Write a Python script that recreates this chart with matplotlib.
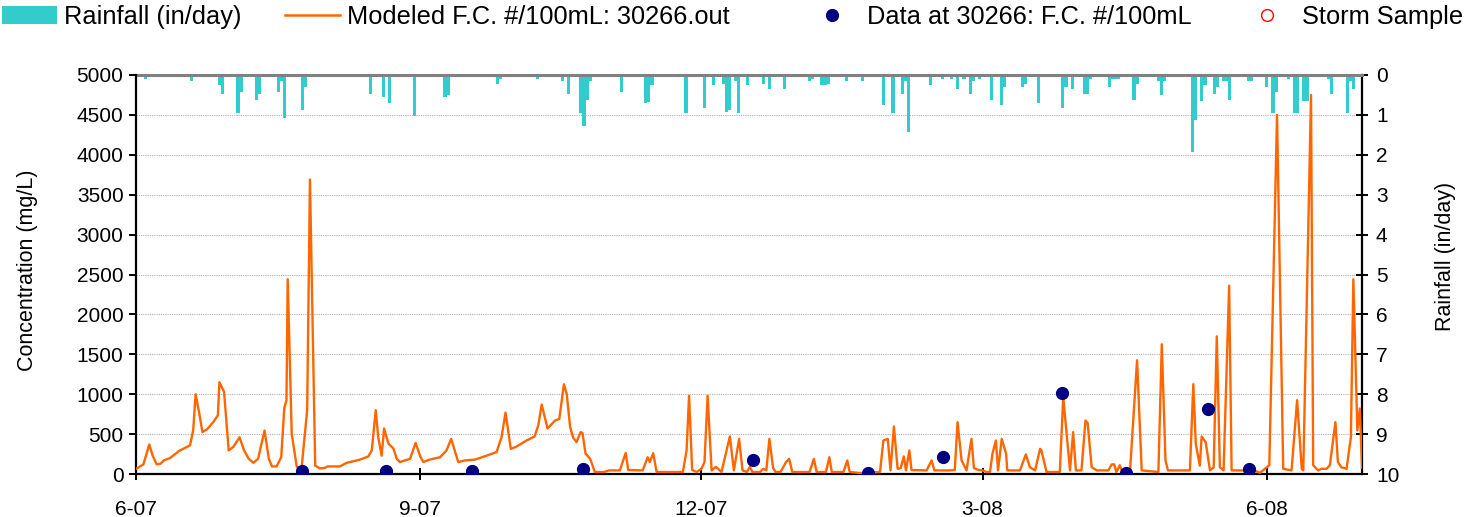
import pandas as pd
import matplotlib
matplotlib.use("Agg")
import matplotlib.pyplot as plt
import matplotlib.dates as mdates
from matplotlib.patches import Patch
from matplotlib.lines import Line2D


START = pd.Timestamp("2007-06-01")
END_DAY = 396.8

# modeled fecal coliform (#/100mL), day offset from START
model_day = [
    0, 2.4, 4.3, 5.4, 6.7, 8, 9, 11, 14, 17.5, 18.5, 19.3, 20.5, 21.5, 23, 25, 26.5, 27, 28.5,
    30, 31.5, 33.5, 35, 36.5, 38, 39.5, 41.6, 43, 44, 45.5, 47, 48, 48.7, 49.1, 50.4, 52, 53.5,
    55.4, 56.3, 58, 59.5, 61, 62, 66, 68.2, 72.5, 75.2, 76.3, 77.6, 78.4, 79.5, 80.3, 81.7,
    83.3, 84.4, 85.4, 88.7, 90.5, 92, 93,
    95, 98.4, 100.5, 102, 103, 104.3, 106.5, 109.7, 113.5, 116.7, 118.3, 119.6, 121.3, 123,
    126.4, 129, 130.2, 131.3, 133.2, 135.6, 137, 138.5, 139.4, 140.5, 141.5, 142.6, 143.9,
    144.5, 145.5, 147, 148.5, 151.5, 153, 156.6, 158.5, 159.3, 164, 165.6, 166.3, 167.4, 168.5,
    177, 178.2, 179, 180, 181.4, 183, 184, 185, 186.3, 187.7, 189.5,
    192.2, 193.5, 195.2, 196.3, 197.7, 198.7, 199.5, 202, 203, 204, 205, 206.2, 207, 208.6,
    210.4, 211.4, 212.4, 218, 219.4, 220.3, 223.3, 224.4, 225.2, 229, 230.2, 231, 235, 240.8,
    241.9, 243.3, 244.2, 245.3, 246.5, 247.5, 248.5, 249.2, 250.3, 251, 255.9, 257.5, 258.4,
    263.4, 265, 265.9, 267.2, 268.8, 270.4, 271.2, 272.6, 274, 275.2, 276.4, 277.2, 278.3, 279,
    280.2, 281.6, 282, 286.1,
    288, 289.3, 291, 292.6, 293, 294.7, 299, 300.1, 301.2, 302.3, 303.3, 304.2, 306, 307.3, 308,
    309.3, 311, 314.7, 315.8, 316.6, 317.3, 318.4, 319.3, 321.7, 324, 325.5, 330.9, 332, 333.2,
    334, 341.1, 342.2, 343, 344.3, 344.9, 346.2, 347.6, 348.8, 349.8, 350.8, 352, 353.8, 354.6,
    359.4, 361.6, 363.8, 365.4, 366.8, 369.3, 371.3, 374, 375.8, 377.3, 377.8, 380.3, 381, 382.6,
    383.7, 385.3, 386.4, 388.2, 389, 390.1, 391.8, 393.2, 394, 395.3, 396.1, 396.8,
]
model_fc = [
    65, 120, 370, 230, 120, 130, 170, 200, 290, 360, 545, 1000, 755, 525, 560, 650, 735, 1150, 1030,
    295, 340, 460, 295, 190, 140, 190, 545, 190, 95, 95, 210, 830, 920, 2440, 505, 95, 40,
    800, 3690, 105, 70, 75, 95, 95, 140, 180, 220, 295, 800, 460, 230, 570, 380,
    320, 190, 150, 190, 390, 220, 150,
    180, 210, 295, 440, 315, 150, 170, 180, 230, 275, 460, 770, 315, 340,
    420, 470, 610, 870, 570, 670, 690, 1125, 1005, 590, 455, 400, 525,
    515, 255, 190, 25, 25, 45, 45, 265, 50, 45, 210, 150, 260, 25,
    25, 295, 980, 50, 25, 65, 150, 980, 45, 90, 25,
    470, 45, 440, 45, 25, 90, 25, 25, 65, 45, 440, 75, 25, 25,
    150, 190, 25, 25, 190, 25, 25, 210, 25, 25, 170, 25, 10, 25,
    420, 440, 45, 595, 65, 75, 220, 45, 295, 50, 45, 170, 45,
    45, 50, 650, 170, 45, 440, 75, 50, 45, 25, 25, 255, 420, 45,
    440, 255, 45, 45,
    245, 85, 45, 315, 300, 25, 25, 965, 505, 45, 525, 45, 45, 670, 640,
    85, 45, 45, 120, 120, 25, 110, 15, 25, 1425, 45, 25, 1625, 170,
    45, 45, 1125, 380, 105, 470, 400, 45, 85, 1725, 85, 45, 2360, 45,
    45, 50, 15, 65, 110, 4500, 65, 45, 925, 65, 45, 4750, 110, 45,
    65, 65, 110, 650, 150, 85, 65, 460, 2440, 545, 820, 80,
]

# observed samples
obs_day = [53.6, 80.8, 108.6, 144.8, 199.8, 236.8, 261.3, 299.6, 320.3, 346.8, 360.3]
obs_fc = [40, 35, 35, 65, 170, 10, 210, 1020, 15, 820, 65]

# storm samples (none in this period)
storm_day = []
storm_fc = []

# daily rainfall (in/day)
rain_day = [
    2, 3, 7, 18, 26, 27, 28, 33, 34, 39, 40, 44, 46, 47, 48, 54, 55, 65, 76, 80, 81, 82, 90,
    100, 101, 105, 117, 118, 130, 138, 140, 144, 145, 146, 147, 157, 161, 164, 165, 166, 167,
    173, 178, 184, 187, 190, 191, 192, 194, 195, 198, 201, 203, 205, 210, 217, 218, 219, 222,
    223, 224, 227, 230, 235, 242, 245, 248, 249, 250, 255, 257, 261, 264, 266, 267, 268, 270,
    271, 273, 277, 280, 281, 283, 287, 288, 292, 300, 301, 303, 307, 308, 309, 315, 316, 317,
    318, 323, 324, 330, 331, 332, 333, 342, 343, 345, 346, 349, 350, 352, 353, 354, 360, 361,
    366, 368, 369, 373, 375, 376, 378, 379, 384, 386, 387, 391, 392, 393, 394,
]
rain_in = [
    0.04, 0.1, 0.04, 0.14, 0.04, 0.25, 0.48, 0.94, 0.43, 0.62, 0.48, 0.04, 0.43, 0.15, 1.07,
    0.87, 0.29, 0.04, 0.48, 0.54, 0.04, 0.69, 1.02,
    0.54, 0.5, 0.04, 0.22, 0.1, 0.1, 0.14, 0.48, 0.94, 1.27, 0.62, 0.14, 0.42, 0.04, 0.04, 0.7,
    0.67, 0.24, 0.04, 0.94, 0.82, 0.24, 0.22, 0.92, 0.87, 0.14, 0.94, 0.24, 0.04, 0.22, 0.34,
    0.34, 0.04, 0.14, 0.1, 0.24, 0.24, 0.22, 0.04, 0.14, 0.14, 0.74, 0.94, 0.47, 0.14, 1.42,
    0.04, 0.24, 0.1, 0.1, 0.34, 0.04, 0.1, 0.47, 0.14, 0.1, 0.62, 0.74, 0.29, 0.04, 0.29, 0.22,
    0.69, 0.82, 0.29, 0.34, 0.47, 0.47, 0.1, 0.29, 0.1, 0.1, 0.1, 0.62, 0.22, 0.04, 0.14, 0.5,
    0.14, 1.92, 1.12, 0.65, 0.24, 0.47, 0.29, 0.14, 0.14, 0.62, 0.14, 0.14, 0.29, 0.94, 0.42,
    0.1, 0.94, 0.94, 0.65, 0.65, 0.04, 0.1, 0.47, 0.04, 0.94, 0.14, 0.34,
]

RAIN_COLOR = "#33CCCC"
LINE_COLOR = "#FF6600"
DOT_COLOR = "#000080"


def to_dates(days):
    return [START + pd.Timedelta(days=d) for d in days]


def month_label(x, pos=None):
    d = mdates.num2date(x)
    return f"{d.month}-{d:%y}"


plt.rcParams["font.family"] = ["Liberation Sans", "DejaVu Sans"]
plt.rcParams["font.size"] = 15

fig = plt.figure(figsize=(14.73, 5.17), dpi=100)
ax = fig.add_axes([136 / 1473, 1 - 474 / 517, 1226 / 1473, 399 / 517])
ax2 = ax.twinx()

# rainfall hangs from the top on the inverted right axis
ax2.bar(to_dates(rain_day), rain_in, width=1.0, color=RAIN_COLOR, linewidth=0, zorder=2)
ax2.set_ylim(10, 0)
ax2.set_yticks(range(0, 11))
ax2.set_axisbelow(True)
ax2.yaxis.grid(True, color="#b0b0b0", linestyle=(0, (1, 1)), linewidth=0.8)
ax2.set_ylabel("Rainfall (in/day)", fontsize=15.5)
ax2.yaxis.set_label_coords(1.0595, 0.546)

ax.set_zorder(ax2.get_zorder() + 1)
ax.patch.set_visible(False)

ax.plot(to_dates(model_day), model_fc, color=LINE_COLOR, linewidth=1.7, zorder=3)
ax.plot(to_dates(obs_day), obs_fc, linestyle="none", marker="o", markersize=8.5,
        color=DOT_COLOR, zorder=4)
ax.plot(to_dates(storm_day), storm_fc, linestyle="none", marker="o", markersize=8,
        markerfacecolor="none", markeredgecolor="red", zorder=5)

ax.set_ylim(0, 5000)
ax.set_yticks(range(0, 5001, 500))
ax.set_xlim(START, START + pd.Timedelta(days=END_DAY))
ax.xaxis.set_major_locator(mdates.MonthLocator(bymonth=[3, 6, 9, 12]))
ax.xaxis.set_major_formatter(plt.FuncFormatter(month_label))
ax.set_ylabel("Concentration (mg/L)", fontsize=15.5)
ax.yaxis.set_label_coords(-0.080, 0.51)

for side in ["top", "right"]:
    ax.spines[side].set_visible(False)
for side in ["left", "bottom"]:
    ax2.spines[side].set_visible(False)
    ax.spines[side].set_linewidth(1.6)
ax2.spines["right"].set_linewidth(1.6)
ax2.spines["top"].set_color("#808080")
ax2.spines["top"].set_linewidth(2.2)

ax.tick_params(axis="y", direction="out", length=5, width=1.4, pad=4)
ax.tick_params(axis="x", direction="inout", length=9, width=1.4, pad=14)
ax2.tick_params(axis="y", direction="inout", length=8, width=1.4, pad=6)

# legend row across the top
entries = [
    (Patch(facecolor=RAIN_COLOR, edgecolor="none"), "Rainfall (in/day)", 2),
    (Line2D([], [], color=LINE_COLOR, linewidth=1.8), "Modeled F.C. #/100mL: 30266.out", 285),
    (Line2D([], [], linestyle="none", marker="o", markersize=8.5, color=DOT_COLOR),
     "Data at 30266: F.C. #/100mL", 805),
    (Line2D([], [], linestyle="none", marker="o", markersize=8.5, markerfacecolor="none",
            markeredgecolor="red"), "Storm Sample", 1240),
]
for handle, label, xpos in entries:
    fig.legend([handle], [label], loc="center left", bbox_to_anchor=(xpos / 1473, 1 - 17 / 517),
               frameon=False, fontsize=18.3, handlelength=2.15, handleheight=0.75,
               handletextpad=0.28, borderaxespad=0, borderpad=0)

fig.savefig("out.png", dpi=100)
